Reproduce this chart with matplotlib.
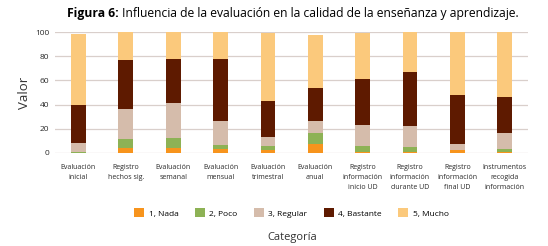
import numpy as np
import matplotlib
matplotlib.use('Agg')
import matplotlib.pyplot as plt

plt.rcParams['font.family'] = ['Open Sans', 'DejaVu Sans']

categories = ['Evaluación\ninicial', 'Registro\nhechos sig.', 'Evaluación\nsemanal',
              'Evaluación\nmensual', 'Evaluación\ntrimestral', 'Evaluación\nanual',
              'Registro\ninformación\ninicio UD', 'Registro\ninformación\ndurante UD',
              'Registro\ninformación\nfinal UD', 'Instrumentos\nrecogida\ninformación']

nada     = [0.0, 4.0, 4.0, 3.5, 2.0, 7.5, 0.5, 1.0, 2.5, 0.5]
poco     = [1.0, 7.5, 8.5, 3.0, 3.5, 9.0, 5.0, 3.5, 0.0, 3.0]
regular  = [7.0, 24.5, 29.0, 19.5, 7.5, 10.0, 17.5, 17.5, 4.5, 12.5]
bastante = [32.0, 41.0, 36.5, 52.0, 30.0, 27.0, 38.0, 45.0, 41.0, 30.0]
mucho    = [58.5, 23.0, 22.0, 22.0, 56.0, 44.5, 38.0, 33.0, 52.0, 54.0]

series = [nada, poco, regular, bastante, mucho]
labels = ['1, Nada', '2, Poco', '3, Regular', '4, Bastante', '5, Mucho']
colors = ['#F7941D', '#8DB255', '#D5BCAB', '#5E1A00', '#FBC97C']

fig = plt.figure(figsize=(5.48, 2.46), dpi=100)
ax = fig.add_axes([0.100, 0.379, 0.864, 0.490])

x = np.arange(len(categories))
bottom = np.zeros(len(categories))
for vals, lab, col in zip(series, labels, colors):
    ax.bar(x, vals, 0.31, bottom=bottom, color=col, label=lab, zorder=3)
    bottom += np.array(vals)

ax.set_xlim(-0.5, len(categories) - 0.5)
ax.set_ylim(0, 100)
ax.set_yticks([0, 20, 40, 60, 80, 100])
ax.yaxis.grid(True, color='#D9CFCB', lw=0.9, zorder=0)
for s in ax.spines.values():
    s.set_visible(False)
ax.tick_params(length=0, colors='#2a2a2a')
ax.tick_params(axis='y', labelsize=6, pad=4)
ax.set_xticks(x)
ax.set_xticklabels(categories, fontsize=5.0, linespacing=1.6,
                   family=['Liberation Sans Narrow', 'Open Sans', 'DejaVu Sans'])
ax.tick_params(axis='x', pad=8)

ax.set_ylabel('Valor', fontsize=9.5, color='#333333')
ax.yaxis.set_label_coords(-0.05, 0.5)
fig.text(0.533, 0.033, 'Categoría', fontsize=8, color='#333333', ha='center', va='center')

ax.legend(loc='center', bbox_to_anchor=(0.5, -0.5), ncol=5, frameon=False,
          fontsize=6, handlelength=1.2, handleheight=1.2, handletextpad=0.5,
          columnspacing=2.0)

t1 = fig.text(0.122, 0.93, 'Figura 6:', fontsize=8.7, fontweight='bold')
ax.annotate(' Influencia de la evaluación en la calidad de la enseñanza y aprendizaje.',
            xy=(1, 0), xycoords=t1, va='bottom', fontsize=8.7)

fig.savefig('out.png', dpi=100)
